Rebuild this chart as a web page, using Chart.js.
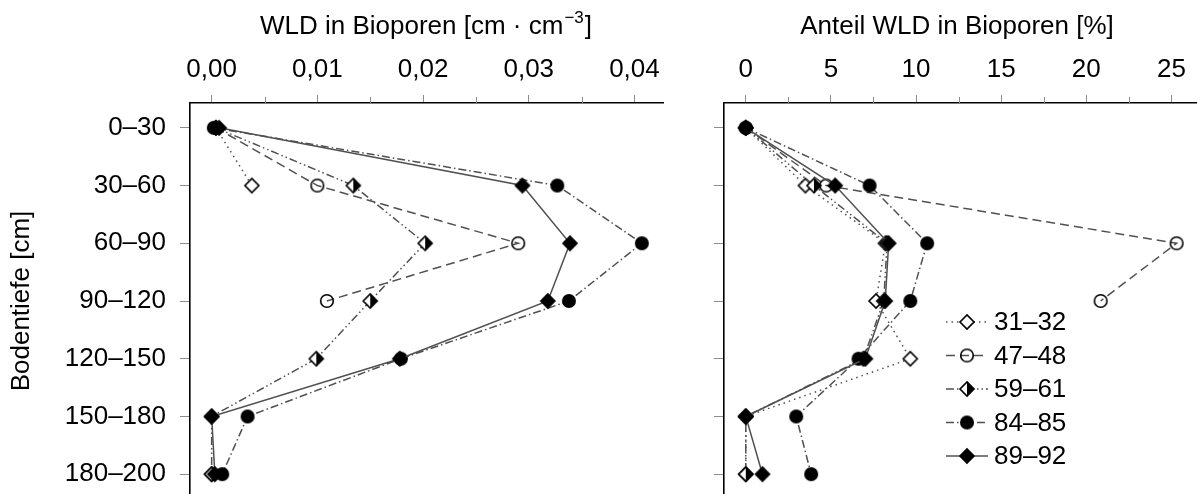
<!DOCTYPE html>
<html><head><meta charset="utf-8">
<script src="https://cdn.jsdelivr.net/npm/chart.js@4.4.1/dist/chart.umd.min.js"></script>
<style>
html,body{margin:0;padding:0;overflow:hidden;background:#fff;width:1197px;height:494px;}
canvas{position:absolute;top:0;}
</style></head><body>
<canvas id="c1" width="680" height="499" style="left:0;width:680px;height:499px"></canvas>
<canvas id="c2" width="517" height="499" style="left:680px;width:517px;height:499px"></canvas>
<script>
// ---- data ----
const categories = ['0–30','30–60','60–90','90–120','120–150','150–180','180–200'];
const seriesNames = ['31–32','47–48','59–61','84–85','89–92'];
// WLD in Bioporen [cm·cm^-3]
const wld_3132 = [0.0004, 0.0038, null, null, null, null, 0.0000];
const wld_4748 = [0.0004, 0.0100, 0.0290, 0.0109, null, null, null];
const wld_5961 = [0.0004, 0.0134, 0.0202, 0.0150, 0.0099, 0.0000, 0.0000];
const wld_8485 = [0.0002, 0.0327, 0.0407, 0.0338, 0.0179, 0.0034, 0.0010];
const wld_8992 = [0.0007, 0.0294, 0.0339, 0.0318, 0.0178, 0.0000, 0.0003];
// Anteil WLD in Bioporen [%]
const pct_3132 = [0, 3.5, 8.2, 7.65, 9.66, 0, 0];
const pct_4748 = [0, 4.72, 25.3, 20.84, null, null, null];
const pct_5961 = [0, 4.0, 8.3, 8.1, 6.9, 0, 0];
const pct_8485 = [0, 7.27, 10.65, 9.66, 6.62, 2.96, 3.84];
const pct_8992 = [0, 5.25, 8.39, 8.19, 7.02, 0, 0.98];
const wldTicks = [0, 0.01, 0.02, 0.03, 0.04];
const pctTicks = [0, 5, 10, 15, 20, 25];
const wldMinor = [0.005, 0.015, 0.025, 0.035];
const pctMinor = [2.5, 7.5, 12.5, 17.5, 22.5];

// ---- styles ----
const FONT = "'Liberation Sans', Arial, Helvetica, sans-serif";
const LINE = '#505050';
const TICKC = '#8c8c8c';
const dashes = [[1.5, 4], [9, 5], [8, 3, 1.5, 3, 1.5, 3], [8, 3, 1.5, 3], []];
const markerTypes = ['openDiamond', 'openCircle', 'halfDiamond', 'filledCircle', 'filledDiamond'];

function makeMarker(type) {
  const s = 20, c = document.createElement('canvas');
  c.width = s; c.height = s;
  const g = c.getContext('2d');
  const m = s / 2, r = 7;
  g.lineWidth = 1.6; g.strokeStyle = '#000';
  const diamond = () => { g.beginPath(); g.moveTo(m - r, m); g.lineTo(m, m - r); g.lineTo(m + r, m); g.lineTo(m, m + r); g.closePath(); };
  if (type === 'openDiamond') { diamond(); g.fillStyle = '#fff'; g.fill(); g.stroke(); }
  else if (type === 'filledDiamond') { diamond(); g.fillStyle = '#000'; g.fill(); g.stroke(); }
  else if (type === 'halfDiamond') {
    diamond(); g.fillStyle = '#fff'; g.fill();
    g.beginPath(); g.moveTo(m, m - r); g.lineTo(m + r, m); g.lineTo(m, m + r); g.closePath(); g.fillStyle = '#000'; g.fill();
    diamond(); g.stroke();
  }
  else if (type === 'openCircle') { g.beginPath(); g.arc(m, m, 6.3, 0, Math.PI * 2); g.stroke(); }
  else if (type === 'filledCircle') { g.beginPath(); g.arc(m, m, 7, 0, Math.PI * 2); g.fillStyle = '#000'; g.fill(); }
  return c;
}
const markers = markerTypes.map(makeMarker);

function makeDatasets(series) {
  return series.map((vals, k) => ({
    label: seriesNames[k],
    data: vals.map((v, i) => ({ x: v, y: i })),
    showLine: true,
    spanGaps: false,
    borderColor: LINE,
    borderWidth: 1.5,
    borderDash: dashes[k],
    pointStyle: markers[k],
    pointRadius: 7,
    pointHoverRadius: 7,
    backgroundColor: '#000',
    tension: 0,
    fill: false,
    order: 5 - k
  }));
}

const minorTicks = {
  id: 'minorTicks',
  afterDraw(chart, args, opts) {
    const vals = (opts && opts.values) || [];
    const ctx = chart.ctx, xs = chart.scales.x, top = chart.chartArea.top;
    ctx.save(); ctx.strokeStyle = TICKC; ctx.lineWidth = 1;
    vals.forEach(v => {
      const px = Math.round(xs.getPixelForValue(v)) + 0.5;
      ctx.beginPath(); ctx.moveTo(px, top - 6); ctx.lineTo(px, top); ctx.stroke();
    });
    ctx.restore();
  }
};

function noPad(s) { s.paddingTop = 0; s.paddingBottom = 0; s.paddingLeft = 0; s.paddingRight = 0; }

function baseOptions(xmin, xmax, xticks, minor, fmt, yLabels, yWidth, padRight) {
  return {
    responsive: false, animation: false, devicePixelRatio: 1,
    layout: { autoPadding: false, padding: { left: 0, right: padRight, top: 0, bottom: 0 } },
    plugins: { legend: { display: false }, tooltip: { enabled: false }, minorTicks: { values: minor } },
    scales: {
      x: {
        type: 'linear', position: 'top', min: xmin, max: xmax,
        afterBuildTicks: s => { s.ticks = xticks.map(v => ({ value: v })); },
        afterFit: s => { s.height = 103; noPad(s); },
        ticks: { callback: fmt, color: '#000', font: { family: FONT, size: 26 }, padding: 10, maxRotation: 0, autoSkip: false },
        grid: { display: true, drawOnChartArea: false, drawTicks: true, tickLength: 8, tickColor: TICKC, tickWidth: 1 },
        border: { display: true, color: '#000', width: 1.6 }
      },
      y: {
        type: 'linear', position: 'left', reverse: true, min: -0.43, max: 6.43,
        afterBuildTicks: s => { s.ticks = categories.map((_, i) => ({ value: i })); },
        afterFit: s => { s.width = yWidth; noPad(s); },
        ticks: { display: yLabels, callback: v => categories[Math.round(v)], color: '#000', font: { family: FONT, size: 26 }, padding: 14, autoSkip: false },
        grid: { display: true, drawOnChartArea: false, drawTicks: true, tickLength: 10, tickColor: TICKC, tickWidth: 1 },
        border: { display: true, color: '#000', width: 1.6 }
      }
    }
  };
}

// ---- left chart ----
const textLeft = {
  id: 'textLeft',
  afterDraw(chart) {
    const ctx = chart.ctx;
    ctx.save();
    ctx.fillStyle = '#000';
    ctx.textBaseline = 'middle';
    const f = '26px ' + FONT, fs = '17px ' + FONT;
    const p1 = 'WLD in Bioporen [cm · cm', p2 = '−3', p3 = ']';
    ctx.font = f; const w1 = ctx.measureText(p1).width, w3 = ctx.measureText(p3).width;
    ctx.font = fs; const w2 = ctx.measureText(p2).width;
    let x = 426 - (w1 + w2 + 2 + w3) / 2;
    ctx.textAlign = 'left';
    ctx.font = f; ctx.fillText(p1, x, 27); x += w1 + 1;
    ctx.font = fs; ctx.fillText(p2, x, 18); x += w2 + 1;
    ctx.font = f; ctx.fillText(p3, x, 27);
    ctx.translate(22, 301); ctx.rotate(-Math.PI / 2);
    ctx.textAlign = 'center'; ctx.font = f;
    ctx.fillText('Bodentiefe [cm]', 0, 0);
    ctx.restore();
  }
};

new Chart(document.getElementById('c1'), {
  type: 'scatter',
  data: { datasets: makeDatasets([wld_3132, wld_4748, wld_5961, wld_8485, wld_8992]) },
  options: baseOptions(-0.00205, 0.0427, wldTicks, wldMinor, v => Number(v).toFixed(2).replace('.', ','), true, 190, 17),
  plugins: [minorTicks, textLeft]
});

// ---- right chart ----
const textRight = {
  id: 'textRight',
  afterDraw(chart) {
    const ctx = chart.ctx;
    ctx.save();
    ctx.fillStyle = '#000';
    ctx.textBaseline = 'middle';
    ctx.textAlign = 'center';
    ctx.font = '26px ' + FONT;
    ctx.fillText('Anteil WLD in Bioporen [%]', 277, 27);
    const rows = [322, 355.5, 389, 422.5, 456];
    chart.data.datasets.forEach((ds, k) => {
      const y = rows[k];
      ctx.save();
      ctx.strokeStyle = LINE; ctx.lineWidth = 1.5; ctx.setLineDash(dashes[k]);
      ctx.beginPath(); ctx.moveTo(266, y); ctx.lineTo(308, y); ctx.stroke();
      ctx.restore();
      const m = markers[k];
      ctx.drawImage(m, 287 - m.width / 2, y - m.height / 2);
      ctx.textAlign = 'left';
      ctx.fillText(seriesNames[k], 314, y + 1);
    });
    ctx.restore();
  }
};

new Chart(document.getElementById('c2'), {
  type: 'scatter',
  data: { datasets: makeDatasets([pct_3132, pct_4748, pct_5961, pct_8485, pct_8992]) },
  options: baseOptions(-1.28, 26.5, pctTicks, pctMinor, v => String(v), false, 44, 0),
  plugins: [minorTicks, textRight]
});
</script>
</body></html>
